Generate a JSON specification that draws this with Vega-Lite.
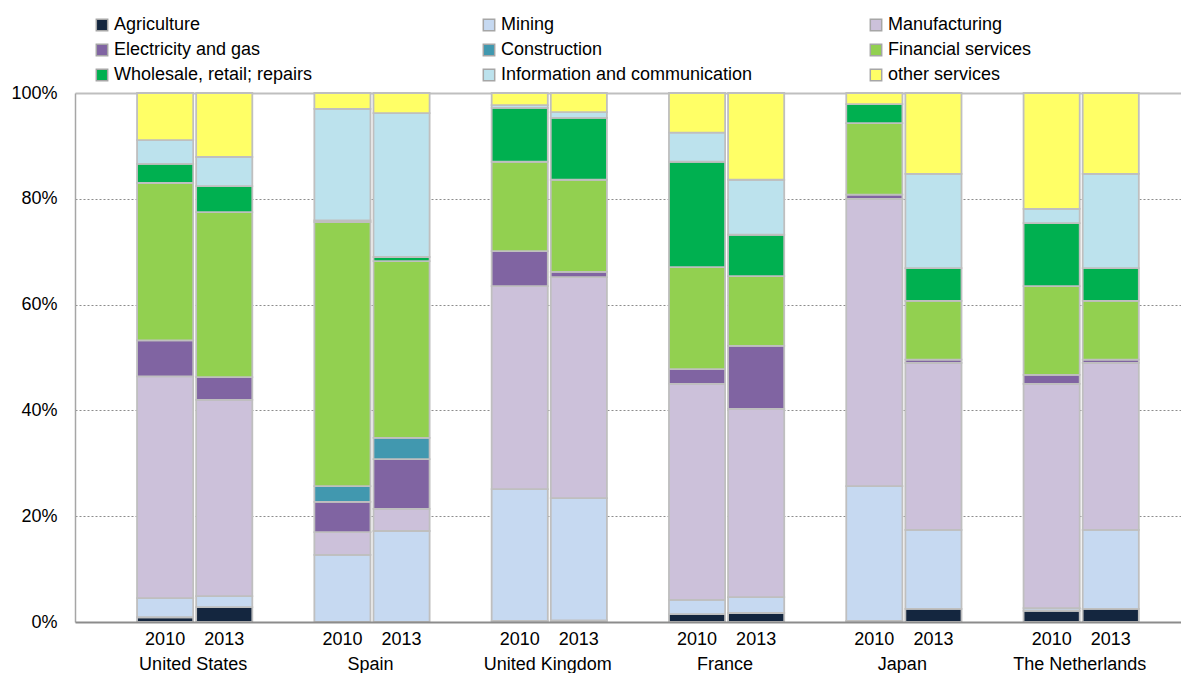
{
  "$schema": "https://vega.github.io/schema/vega-lite/v6.json",
  "padding": {"left": 10, "top": 16, "right": 0, "bottom": 0},
  "autosize": {"type": "pad"},
  "background": "white",
  "width": 1108,
  "height": 529,
  "config": {
    "font": "Liberation Sans",
    "view": {"stroke": null}
  },
  "data": {"values": [
    {"country": "United States", "year": "2010", "sector": "Agriculture", "share": 0.9},
    {"country": "United States", "year": "2010", "sector": "Mining", "share": 3.6},
    {"country": "United States", "year": "2010", "sector": "Manufacturing", "share": 41.9},
    {"country": "United States", "year": "2010", "sector": "Electricity and gas", "share": 6.8},
    {"country": "United States", "year": "2010", "sector": "Financial services", "share": 29.7},
    {"country": "United States", "year": "2010", "sector": "Wholesale, retail; repairs", "share": 3.6},
    {"country": "United States", "year": "2010", "sector": "Information and communication", "share": 4.5},
    {"country": "United States", "year": "2010", "sector": "other services", "share": 8.9},
    {"country": "United States", "year": "2013", "sector": "Agriculture", "share": 2.8},
    {"country": "United States", "year": "2013", "sector": "Mining", "share": 2.1},
    {"country": "United States", "year": "2013", "sector": "Manufacturing", "share": 37.1},
    {"country": "United States", "year": "2013", "sector": "Electricity and gas", "share": 4.3},
    {"country": "United States", "year": "2013", "sector": "Financial services", "share": 31.2},
    {"country": "United States", "year": "2013", "sector": "Wholesale, retail; repairs", "share": 4.9},
    {"country": "United States", "year": "2013", "sector": "Information and communication", "share": 5.5},
    {"country": "United States", "year": "2013", "sector": "other services", "share": 12.1},
    {"country": "Spain", "year": "2010", "sector": "Mining", "share": 12.7},
    {"country": "Spain", "year": "2010", "sector": "Manufacturing", "share": 4.3},
    {"country": "Spain", "year": "2010", "sector": "Electricity and gas", "share": 5.7},
    {"country": "Spain", "year": "2010", "sector": "Construction", "share": 3.0},
    {"country": "Spain", "year": "2010", "sector": "Financial services", "share": 49.9},
    {"country": "Spain", "year": "2010", "sector": "Wholesale, retail; repairs", "share": 0.3},
    {"country": "Spain", "year": "2010", "sector": "Information and communication", "share": 21.1},
    {"country": "Spain", "year": "2010", "sector": "other services", "share": 3.0},
    {"country": "Spain", "year": "2013", "sector": "Mining", "share": 17.2},
    {"country": "Spain", "year": "2013", "sector": "Manufacturing", "share": 4.2},
    {"country": "Spain", "year": "2013", "sector": "Electricity and gas", "share": 9.4},
    {"country": "Spain", "year": "2013", "sector": "Construction", "share": 4.0},
    {"country": "Spain", "year": "2013", "sector": "Financial services", "share": 33.4},
    {"country": "Spain", "year": "2013", "sector": "Wholesale, retail; repairs", "share": 0.8},
    {"country": "Spain", "year": "2013", "sector": "Information and communication", "share": 27.2},
    {"country": "Spain", "year": "2013", "sector": "other services", "share": 3.8},
    {"country": "United Kingdom", "year": "2010", "sector": "Agriculture", "share": 0.2},
    {"country": "United Kingdom", "year": "2010", "sector": "Mining", "share": 24.9},
    {"country": "United Kingdom", "year": "2010", "sector": "Manufacturing", "share": 38.4},
    {"country": "United Kingdom", "year": "2010", "sector": "Electricity and gas", "share": 6.6},
    {"country": "United Kingdom", "year": "2010", "sector": "Financial services", "share": 16.9},
    {"country": "United Kingdom", "year": "2010", "sector": "Wholesale, retail; repairs", "share": 10.2},
    {"country": "United Kingdom", "year": "2010", "sector": "Information and communication", "share": 0.5},
    {"country": "United Kingdom", "year": "2010", "sector": "other services", "share": 2.3},
    {"country": "United Kingdom", "year": "2013", "sector": "Agriculture", "share": 0.3},
    {"country": "United Kingdom", "year": "2013", "sector": "Mining", "share": 23.1},
    {"country": "United Kingdom", "year": "2013", "sector": "Manufacturing", "share": 41.8},
    {"country": "United Kingdom", "year": "2013", "sector": "Electricity and gas", "share": 1.0},
    {"country": "United Kingdom", "year": "2013", "sector": "Financial services", "share": 17.4},
    {"country": "United Kingdom", "year": "2013", "sector": "Wholesale, retail; repairs", "share": 11.7},
    {"country": "United Kingdom", "year": "2013", "sector": "Information and communication", "share": 1.1},
    {"country": "United Kingdom", "year": "2013", "sector": "other services", "share": 3.6},
    {"country": "France", "year": "2010", "sector": "Agriculture", "share": 1.5},
    {"country": "France", "year": "2010", "sector": "Mining", "share": 2.7},
    {"country": "France", "year": "2010", "sector": "Manufacturing", "share": 40.8},
    {"country": "France", "year": "2010", "sector": "Electricity and gas", "share": 2.8},
    {"country": "France", "year": "2010", "sector": "Financial services", "share": 19.3},
    {"country": "France", "year": "2010", "sector": "Wholesale, retail; repairs", "share": 19.9},
    {"country": "France", "year": "2010", "sector": "Information and communication", "share": 5.5},
    {"country": "France", "year": "2010", "sector": "other services", "share": 7.5},
    {"country": "France", "year": "2013", "sector": "Agriculture", "share": 1.7},
    {"country": "France", "year": "2013", "sector": "Mining", "share": 3.0},
    {"country": "France", "year": "2013", "sector": "Manufacturing", "share": 35.6},
    {"country": "France", "year": "2013", "sector": "Electricity and gas", "share": 11.9},
    {"country": "France", "year": "2013", "sector": "Financial services", "share": 13.2},
    {"country": "France", "year": "2013", "sector": "Wholesale, retail; repairs", "share": 7.8},
    {"country": "France", "year": "2013", "sector": "Information and communication", "share": 10.4},
    {"country": "France", "year": "2013", "sector": "other services", "share": 16.4},
    {"country": "Japan", "year": "2010", "sector": "Agriculture", "share": 0.2},
    {"country": "Japan", "year": "2010", "sector": "Mining", "share": 25.5},
    {"country": "Japan", "year": "2010", "sector": "Manufacturing", "share": 54.3},
    {"country": "Japan", "year": "2010", "sector": "Electricity and gas", "share": 0.8},
    {"country": "Japan", "year": "2010", "sector": "Financial services", "share": 13.5},
    {"country": "Japan", "year": "2010", "sector": "Wholesale, retail; repairs", "share": 3.6},
    {"country": "Japan", "year": "2010", "sector": "other services", "share": 2.1},
    {"country": "Japan", "year": "2013", "sector": "Agriculture", "share": 2.5},
    {"country": "Japan", "year": "2013", "sector": "Mining", "share": 14.9},
    {"country": "Japan", "year": "2013", "sector": "Manufacturing", "share": 31.6},
    {"country": "Japan", "year": "2013", "sector": "Electricity and gas", "share": 0.6},
    {"country": "Japan", "year": "2013", "sector": "Financial services", "share": 11.1},
    {"country": "Japan", "year": "2013", "sector": "Wholesale, retail; repairs", "share": 6.2},
    {"country": "Japan", "year": "2013", "sector": "Information and communication", "share": 17.8},
    {"country": "Japan", "year": "2013", "sector": "other services", "share": 15.3},
    {"country": "The Netherlands", "year": "2010", "sector": "Agriculture", "share": 2.1},
    {"country": "The Netherlands", "year": "2010", "sector": "Mining", "share": 0.5},
    {"country": "The Netherlands", "year": "2010", "sector": "Manufacturing", "share": 42.4},
    {"country": "The Netherlands", "year": "2010", "sector": "Electricity and gas", "share": 1.7},
    {"country": "The Netherlands", "year": "2010", "sector": "Financial services", "share": 16.8},
    {"country": "The Netherlands", "year": "2010", "sector": "Wholesale, retail; repairs", "share": 11.9},
    {"country": "The Netherlands", "year": "2010", "sector": "Information and communication", "share": 2.7},
    {"country": "The Netherlands", "year": "2010", "sector": "other services", "share": 21.9},
    {"country": "The Netherlands", "year": "2013", "sector": "Agriculture", "share": 2.5},
    {"country": "The Netherlands", "year": "2013", "sector": "Mining", "share": 14.9},
    {"country": "The Netherlands", "year": "2013", "sector": "Manufacturing", "share": 31.6},
    {"country": "The Netherlands", "year": "2013", "sector": "Electricity and gas", "share": 0.6},
    {"country": "The Netherlands", "year": "2013", "sector": "Financial services", "share": 11.1},
    {"country": "The Netherlands", "year": "2013", "sector": "Wholesale, retail; repairs", "share": 6.2},
    {"country": "The Netherlands", "year": "2013", "sector": "Information and communication", "share": 17.8},
    {"country": "The Netherlands", "year": "2013", "sector": "other services", "share": 15.3}
  ]},
  "transform": [
    {"calculate": "indexof(['Agriculture','Mining','Manufacturing','Electricity and gas','Construction','Financial services','Wholesale, retail; repairs','Information and communication','other services'], datum.sector)", "as": "stackOrder"}
  ],
  "encoding": {
    "x": {
      "field": "country", "type": "nominal",
      "sort": ["United States", "Spain", "United Kingdom", "France", "Japan", "The Netherlands"],
      "scale": {"paddingInner": 0, "paddingOuter": 0.1246, "align": 0},
      "axis": {"title": null, "labelAngle": 0, "labelFontSize": 18, "labelColor": "#000000", "labelPadding": 33, "labelOffset": 29.5, "ticks": false, "domainColor": "#8c8c8c", "domainWidth": 2, "grid": false, "zindex": 1}
    },
    "xOffset": {
      "field": "year", "type": "ordinal",
      "scale": {"paddingInner": 0.05, "paddingOuter": 0.525, "align": 1}
    }
  },
  "layer": [
    {
      "mark": {"type": "bar", "stroke": "#bfbfbf", "strokeWidth": 1.8},
      "encoding": {
        "y": {
          "field": "share", "type": "quantitative", "stack": "normalize",
          "scale": {"domain": [0, 1]},
          "axis": {
            "title": null, "values": [0, 0.2, 0.4, 0.6, 0.8, 1], "format": ".0%",
            "labelFontSize": 18, "labelColor": "#000000", "labelPadding": 18, "ticks": false,
            "domain": true, "domainColor": "#a6a6a6", "domainWidth": 1.5,
            "grid": true,
            "gridColor": {"condition": {"test": "datum.value === 1", "value": "#bfbfbf"}, "value": "#8c8c8c"},
            "gridDash": {"condition": {"test": "datum.value === 1", "value": []}, "value": [2, 2]},
            "gridWidth": {"condition": {"test": "datum.value === 1", "value": 2}, "value": 1},
            "gridOpacity": {"condition": {"test": "datum.value === 0", "value": 0}, "value": 1}
          }
        },
        "color": {
          "field": "sector", "type": "nominal",
          "scale": {
            "domain": ["Agriculture", "Mining", "Manufacturing", "Electricity and gas", "Construction", "Financial services", "Wholesale, retail; repairs", "Information and communication", "other services"],
            "range": ["#14263f", "#c6d9f1", "#ccc1da", "#8064a2", "#4198af", "#92d050", "#00b050", "#bce2ed", "#ffff66"]
          },
          "legend": {
            "title": null, "orient": "none", "legendX": 18, "legendY": -77,
            "direction": "horizontal", "columns": 3, "gridAlign": "all", "columnPadding": 114, "rowPadding": 7,
            "symbolType": "square", "symbolSize": 130, "symbolStrokeColor": "#a6a6a6", "symbolStrokeWidth": 1.5, "symbolOpacity": 1,
            "labelFontSize": 18, "labelColor": "#000000", "labelOffset": 3, "labelLimit": 400
          }
        },
        "order": {"field": "stackOrder", "type": "quantitative", "sort": "ascending"}
      }
    },
    {
      "transform": [{"filter": "datum.sector === 'Manufacturing'"}],
      "mark": {"type": "text", "baseline": "top", "align": "center", "dy": 9, "fontSize": 18, "color": "#000000"},
      "encoding": {
        "y": {"datum": 0, "type": "quantitative"},
        "text": {"field": "year", "type": "nominal"}
      }
    }
  ]
}
